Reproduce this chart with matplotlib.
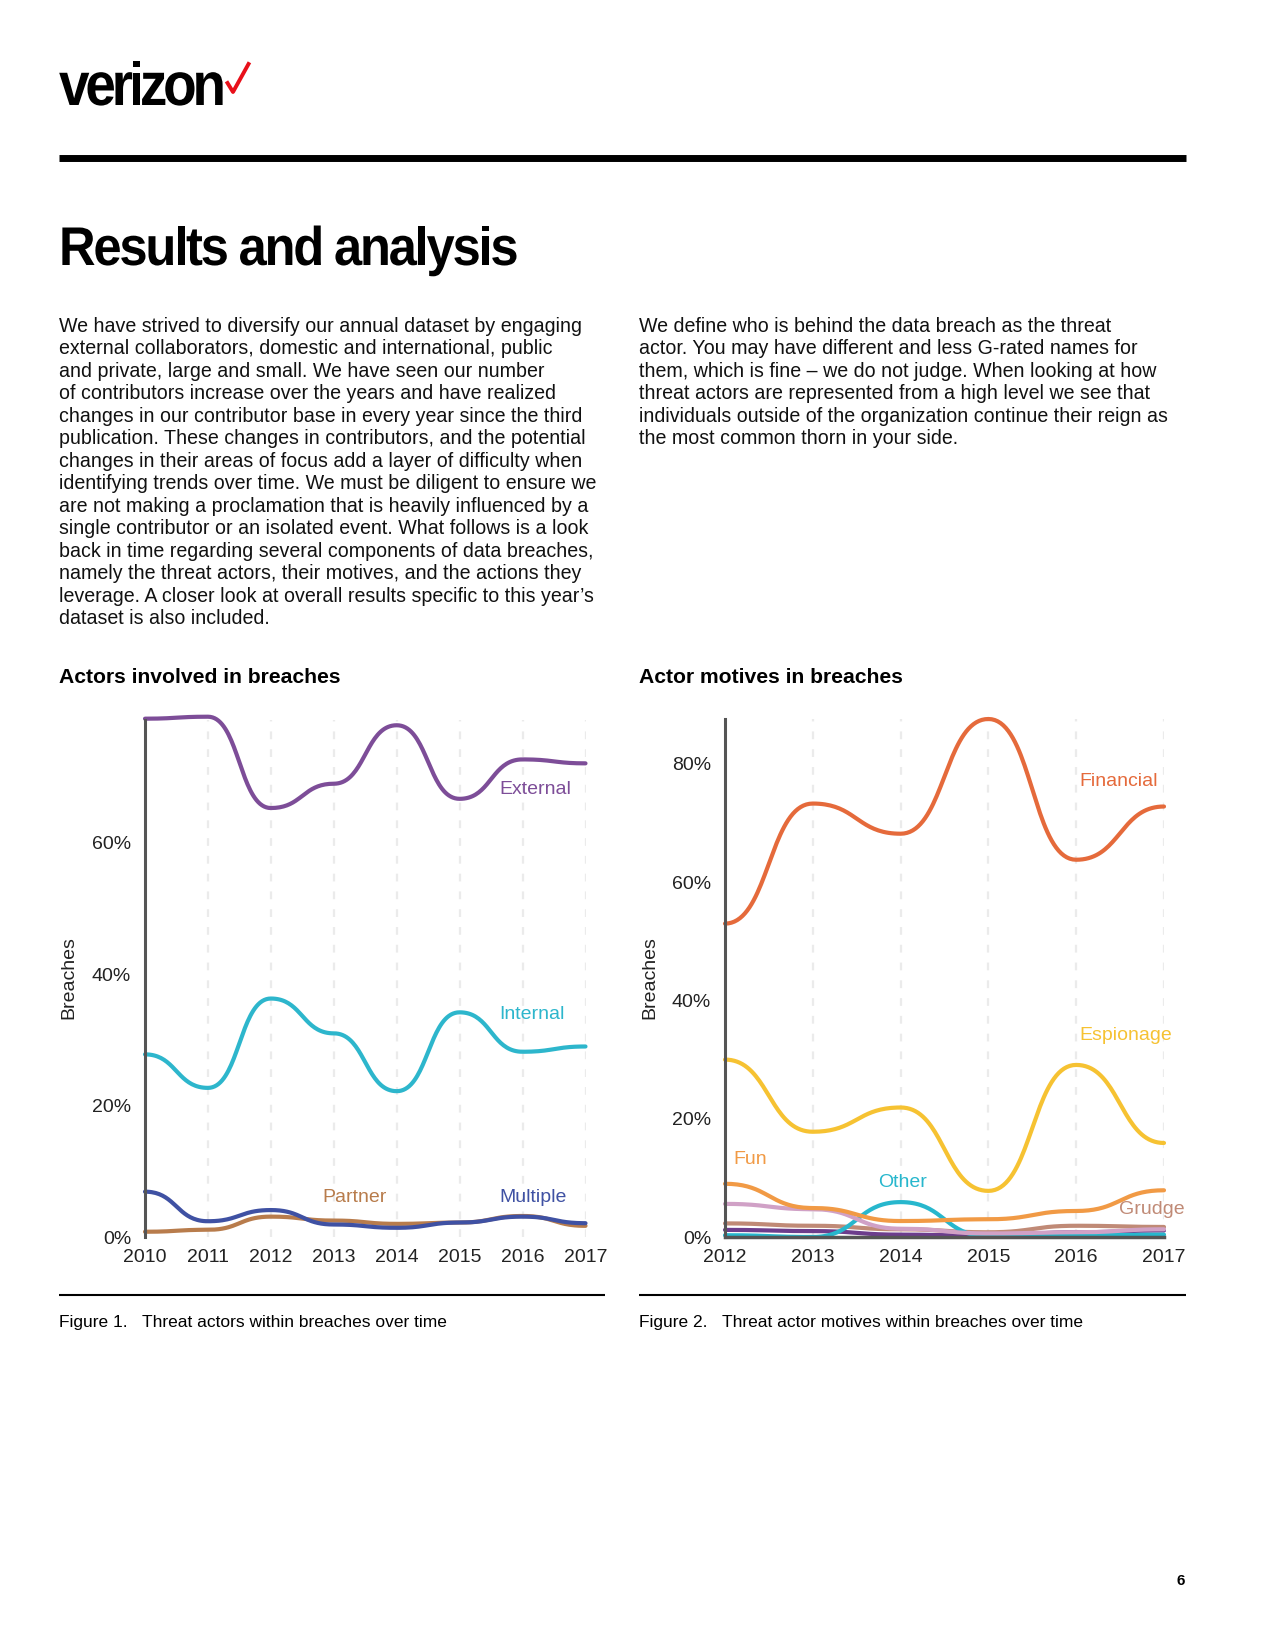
import numpy as np
import matplotlib
matplotlib.use('Agg')
import matplotlib.pyplot as plt
from matplotlib.textpath import TextPath, TextToPath
from matplotlib.patches import PathPatch
from matplotlib.font_manager import FontProperties
from matplotlib.transforms import Affine2D
from matplotlib.lines import Line2D

W, H = 1275, 1650
FONT = 'Liberation Sans'
plt.rcParams['font.family'] = [FONT, 'DejaVu Sans']

# --- data ---
actor_years = [2010, 2011, 2012, 2013, 2014, 2015, 2016, 2017]
external = [78.9, 79.2, 65.3, 69.0, 77.9, 66.7, 72.7, 72.1]
internal = [27.8, 22.7, 36.3, 31.0, 22.2, 34.2, 28.2, 29.0]
multiple = [6.9, 2.4, 4.1, 1.9, 1.4, 2.2, 3.1, 2.1]
partner = [0.8, 1.1, 3.1, 2.5, 2.0, 2.2, 3.2, 1.7]

motive_years = [2012, 2013, 2014, 2015, 2016, 2017]
financial = [53.0, 73.3, 68.2, 87.6, 63.8, 72.8]
espionage = [30.0, 17.8, 21.9, 7.8, 29.1, 15.9]
fun = [9.0, 4.9, 2.7, 3.0, 4.4, 7.9]
other = [0.3, 0.0, 5.9, 0.1, 0.3, 0.4]
ideology = [5.6, 4.7, 1.4, 0.6, 0.8, 1.3]
grudge = [2.3, 1.9, 1.3, 0.8, 1.9, 1.7]
fear = [1.2, 1.0, 0.4, 0.2, 0.8, 1.1]

left_text = [
    "We have strived to diversify our annual dataset by engaging",
    "external collaborators, domestic and international, public",
    "and private, large and small. We have seen our number",
    "of contributors increase over the years and have realized",
    "changes in our contributor base in every year since the third",
    "publication. These changes in contributors, and the potential",
    "changes in their areas of focus add a layer of difficulty when",
    "identifying trends over time. We must be diligent to ensure we",
    "are not making a proclamation that is heavily influenced by a",
    "single contributor or an isolated event. What follows is a look",
    "back in time regarding several components of data breaches,",
    "namely the threat actors, their motives, and the actions they",
    "leverage. A closer look at overall results specific to this year\u2019s",
    "dataset is also included.",
]
right_text = [
    "We define who is behind the data breach as the threat",
    "actor. You may have different and less G-rated names for",
    "them, which is fine \u2013 we do not judge. When looking at how",
    "threat actors are represented from a high level we see that",
    "individuals outside of the organization continue their reign as",
    "the most common thorn in your side.",
]


def bump(x, y, n=40):
    # cubic links with flat tangents at every point (like d3 curveBumpX)
    xs, ys = [], []
    u = np.linspace(0, 1, n)
    for i in range(len(x) - 1):
        x0, x1, y0, y1 = x[i], x[i + 1], y[i], y[i + 1]
        xm = (x0 + x1) / 2
        xs.append((1 - u)**3 * x0 + 3 * (1 - u)**2 * u * xm + 3 * (1 - u) * u**2 * xm + u**3 * x1)
        ys.append((1 - u)**3 * y0 + 3 * (1 - u)**2 * u * y0 + 3 * (1 - u) * u**2 * y1 + u**3 * y1)
    return np.concatenate(xs), np.concatenate(ys)


def ftext(x, y, s, **kw):
    return fig.text(x / W, 1 - y / H, s, **kw)


def tight_text(x, y, s, size, sx, track, color='black'):
    # bold text with narrowed glyphs and tight letter spacing, in pixels
    prop = FontProperties(family=FONT, weight='bold', size=size)
    t2p = TextToPath()
    for i, ch in enumerate(s):
        if ch == ' ':
            continue
        w = t2p.get_text_width_height_descent(s[:i], prop, ismath=False)[0] if i else 0
        path = TextPath((0, 0), ch, size=size, prop=prop)
        tr = Affine2D().scale(sx, 1).translate(x + w * sx + i * track, H - y)
        fig.add_artist(PathPatch(path, transform=tr, facecolor=color, edgecolor='none'))


def hline(x0, x1, y, lw, color='black'):
    fig.add_artist(Line2D([x0 / W, x1 / W], [1 - y / H, 1 - y / H], lw=lw, color=color,
                          transform=fig.transFigure, solid_capstyle='butt'))


def make_axes(x0, x1, ytop, ybot):
    return fig.add_axes([x0 / W, 1 - ybot / H, (x1 - x0) / W, (ybot - ytop) / H])


def style(ax, years, ymax, ticks, bottom_line):
    ax.set_xlim(years[0], years[-1])
    ax.set_ylim(0, ymax)
    ax.set_xticks(years)
    ax.set_yticks(ticks)
    ax.set_yticklabels([f'{t}%' for t in ticks])
    ax.tick_params(length=0, labelsize=14, labelcolor='#222222')
    ax.tick_params(axis='y', pad=10)
    ax.tick_params(axis='x', pad=9)
    for sp in ['top', 'right']:
        ax.spines[sp].set_visible(False)
    ax.spines['left'].set_color('#555555')
    ax.spines['left'].set_linewidth(2.2)
    if bottom_line:
        ax.spines['bottom'].set_color('#555555')
        ax.spines['bottom'].set_linewidth(2.5)
    else:
        ax.spines['bottom'].set_visible(False)
    for yr in years[1:]:
        ax.axvline(yr, color='#ebebeb', lw=1.6, dashes=(3.5, 4.5), zorder=0)


def curve(ax, years, vals, color, z=2):
    xs, ys = bump(years, vals)
    ax.plot(xs, ys, color=color, lw=3, clip_on=False, solid_capstyle='round', zorder=z)


fig = plt.figure(figsize=(W / 100, H / 100), dpi=100)

# header
tight_text(59, 105, 'verizon', 61, 0.9, -4.2)
fig.add_artist(Line2D([227.5 / W, 233 / W, 248.5 / W], [1 - 83 / H, 1 - 92 / H, 1 - 64 / H],
                      color='#e8101a', lw=2.8, transform=fig.transFigure))
hline(59, 1186, 158, 5)
tight_text(59, 265, 'Results and analysis', 54.5, 0.93, -2.2)

for i, line in enumerate(left_text):
    ftext(59, 332 + i * 22.46, line, fontsize=14.1, va='baseline', color='#111111')
for i, line in enumerate(right_text):
    ftext(639, 332 + i * 22.46, line, fontsize=14.1, va='baseline', color='#111111')

ftext(59, 683, 'Actors involved in breaches', fontsize=15.2, fontweight='bold', va='baseline')
ftext(639, 683, 'Actor motives in breaches', fontsize=15.2, fontweight='bold', va='baseline')

# left chart
ax1 = make_axes(145, 585.5, 720, 1237)
style(ax1, actor_years, 78.7, [0, 20, 40, 60], False)
curve(ax1, actor_years, partner, '#b87c4c')
curve(ax1, actor_years, multiple, '#3f51a3')
curve(ax1, actor_years, internal, '#2db6cc')
curve(ax1, actor_years, external, '#7d4d98')
ax1.text(2015.63, 68.1, 'External', color='#7d4d98', fontsize=14, va='center')
ax1.text(2015.63, 33.9, 'Internal', color='#2db6cc', fontsize=14, va='center')
ax1.text(2012.82, 6.0, 'Partner', color='#b87c4c', fontsize=14, va='center')
ax1.text(2015.63, 6.0, 'Multiple', color='#3f51a3', fontsize=14, va='center')
ftext(69, 978, 'Breaches', fontsize=14, rotation=90, ha='center', va='center', color='#222222')

# right chart
ax2 = make_axes(725, 1164, 719, 1237)
style(ax2, motive_years, 87.6, [0, 20, 40, 60, 80], True)
curve(ax2, motive_years, fear, '#6c3d8c')
curve(ax2, motive_years, grudge, '#c08a76')
curve(ax2, motive_years, other, '#27b7cd')
curve(ax2, motive_years, ideology, '#d0a1c6')
curve(ax2, motive_years, fun, '#f19a45')
curve(ax2, motive_years, espionage, '#f6c232')
curve(ax2, motive_years, financial, '#e56a3b')
ax2.text(2016.04, 77.0, 'Financial', color='#e56a3b', fontsize=14, va='center')
ax2.text(2016.04, 34.1, 'Espionage', color='#f6c232', fontsize=14, va='center')
ax2.text(2012.1, 13.1, 'Fun', color='#f19a45', fontsize=14, va='center')
ax2.text(2014.02, 9.2, 'Other', color='#27b7cd', fontsize=14, va='center', ha='center')
ax2.text(2016.49, 4.6, 'Grudge', color='#c08a76', fontsize=14, va='center')
ftext(650, 978, 'Breaches', fontsize=14, rotation=90, ha='center', va='center', color='#222222')

# captions
hline(59, 605, 1295, 1.5)
hline(639, 1186, 1295, 1.5)
ftext(59, 1327, 'Figure 1.', fontsize=12.5, va='baseline')
ftext(142, 1327, 'Threat actors within breaches over time', fontsize=12.5, va='baseline')
ftext(639, 1327, 'Figure 2.', fontsize=12.5, va='baseline')
ftext(722, 1327, 'Threat actor motives within breaches over time', fontsize=12.5, va='baseline')

ftext(1181, 1581, '6', fontsize=11, fontweight='bold', ha='center', va='center')

fig.savefig('out.png', dpi=100)
